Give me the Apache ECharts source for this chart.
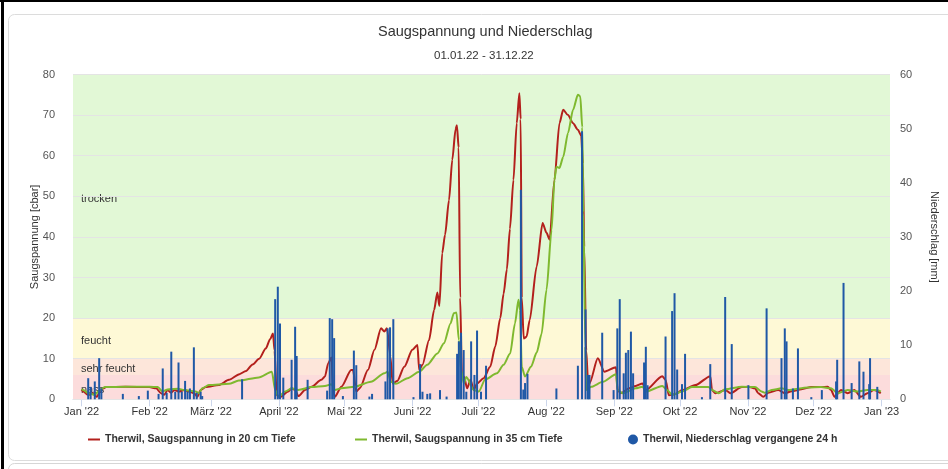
<!DOCTYPE html>
<html>
<head>
<meta charset="utf-8">
<title>Saugspannung und Niederschlag</title>
<script src="https://cdn.jsdelivr.net/npm/echarts@6/dist/echarts.min.js"></script>
<style>
  html, body { margin: 0; padding: 0; background: #fff; }
  #chart { width: 948px; height: 469px; }
</style>
</head>
<body>
<div id="chart"></div>
<script>
// Tage ab 01.01.22 (Tag 0)
const monatsTicks = [0, 31, 59, 90, 120, 151, 181, 212, 243, 273, 304, 334, 365];
const monatsLabels = ["Jan '22", "Feb '22", "März '22", "April '22", "Mai '22", "Juni '22", "Juli '22",
  "Aug '22", "Sep '22", "Okt '22", "Nov '22", "Dez '22", "Jan '23"];

// Bodenfeuchte-Bereiche [cbar]
const bandGrenzen = [0, 6, 10, 20, 80];
const bandNamen = ['nass', 'sehr feucht', 'feucht', 'trocken'];

// Saugspannung 20 cm [Tag, cbar]
const saug20 = [[0,2.4],[0.7,1.9],[3,1.1],[5.3,1.5],[6.8,0.6],[9.1,2.5],[11.3,3.0],[20,3.1],[30.9,3.0],[34,2.7],
  [36.2,1.5],[37.7,1.1],[39.2,2.3],[40.8,1.6],[42.3,2.3],[44.5,1.9],[46.8,2.3],[49,1.9],[51.3,1.5],[52.8,0.6],
  [54.3,2.3],[56.6,3.0],[62.6,3.5],[67.2,4.8],[72,6.2],[75,7],[78,8.6],[81,10],[84,12.5],[86,14.8],[87.3,16.2],
  [88,12],[89,1],[90.6,0.6],[94.3,1.9],[95.8,2.7],[97.4,2.3],[98.9,0.8],[101.9,2.3],[104.9,3.1],[109.4,4.8],
  [111,5.6],[112.5,8.9],[114,10.3],[114.7,2.3],[115.5,0.6],[118.5,3.1],[123,7.2],[123.8,7.2],[125.3,1.9],[127,2.8],
  [130.6,7.2],[133.6,12.2],[136.6,17.5],[138.1,16.7],[139.3,17.5],[140.9,10.5],[141.9,3.9],[144,4.5],[147.2,8],
  [150.9,12.2],[153.2,13.4],[154,7.2],[155.5,8.5],[158.5,14.6],[160.8,22],[162.3,26.3],[163.2,23],[164.5,36],
  [165.8,40.5],[167.6,49],[169.1,59],[170.6,66.5],[171.2,67.5],[172,62],[172.7,25],[173.5,6],[174.4,5.6],
  [175.9,2.7],[177.4,4.8],[178.9,2.3],[180.4,3.9],[183.4,5.2],[186.4,8],[188.7,13],[191,20],[192.5,26],[194,32],
  [195.4,42],[197,54],[198.5,68],[199.7,75.4],[200.3,69],[200.8,25],[201.7,15],[203,15.4],[204.4,19.5],
  [207.6,32.7],[210.3,43.4],[212.1,41],[213.5,39.3],[215.7,54],[218,68],[219.7,71.3],[221.9,70],[224.2,68],
  [226.4,66.4],[227.9,65],[228.7,58],[229.3,37.6],[230.2,12],[231,4.8],[231.7,3.9],[235.5,10.1],[238.5,6.8],
  [243.8,7.9],[244.5,2.3],[246,1.5],[249.8,2.7],[252.8,3.3],[255.9,3.9],[257.4,2.3],[264.9,5.7],[266.4,4.8],
  [267.9,1],[271,1.3],[274,2.3],[280,3.5],[286.8,5.7],[287.6,2.3],[289.1,1.5],[293.6,2.3],[296,1.5],[301.2,3],
  [304.2,3.1],[307.2,2.7],[308.7,1.5],[311,0.6],[313.2,1.6],[317.8,2.3],[320.8,1.5],[324,2],[328.4,2.5],
  [332.9,3],[337.4,3],[340.4,3.1],[341.9,2.3],[343.5,0.6],[346.5,2.3],[349.5,1.5],[352.5,2.3],[355.5,0.6],
  [358.5,1.5],[361.5,2.3],[364.6,1.5]];

// Saugspannung 35 cm [Tag, cbar]
const saug35 = [[0,2.5],[0.7,2.3],[3,1.5],[6,1.1],[8.3,2.3],[10.6,3.0],[20,3.1],[31,3.1],[34.7,3.0],[37,1.9],
  [38.5,2.3],[40,2.5],[44,2.6],[46.8,2.3],[52,1.9],[53.6,1.5],[55,2.7],[58,3.5],[67.2,3.8],[71.7,4.6],[80.8,5.4],
  [86.8,6.8],[88.3,2.3],[89.8,0.6],[92.8,1.9],[95.8,2.7],[98.9,2.3],[104.9,3],[111,3.3],[114,3.7],[115.5,2.3],
  [118.5,2.7],[124.5,3.1],[132,4.3],[138.1,6.4],[139.6,6.8],[141.1,4.3],[143.4,3.8],[148.7,5.2],[154,6.8],
  [157.7,8.5],[162.3,11.3],[165.3,13.8],[168.3,18.7],[169.8,21.2],[171,21.4],[172.1,14.6],[173.1,7.2],
  [174.4,3.9],[175.5,5.5],[178.9,2.3],[181.2,1.9],[184.1,4.9],[189.5,6.4],[192.5,8.5],[195.5,11.3],[197.7,18.7],
  [199.3,24.5],[200,22],[200.8,8],[202.3,5.6],[205,8],[207.6,11.5],[209.8,16],[212.1,27],[214.4,41.7],[215.7,54],
  [216.6,57.3],[218,57],[219.7,59.7],[221.9,65.6],[224.2,71.3],[226.4,75],[227.5,74.6],[228.4,67],[228.9,46],
  [229.8,13],[230.2,2.3],[232.5,3.1],[237.8,4.3],[243.8,6.2],[244.5,2.3],[246.8,1.5],[252.8,2.7],[255.9,3.1],
  [257.4,1.9],[264.9,3.3],[267.1,2.3],[269.4,1.1],[273.9,1.9],[278.4,3],[286,3],[287.6,2.3],[290.6,1.5],
  [293.6,2.5],[301.2,3.1],[307.2,3],[310.2,1.9],[311.7,1.6],[314.8,2.3],[319.3,2.7],[322.3,2.3],[331.4,2.9],
  [337.4,3],[341.9,2.7],[344.9,1.5],[349.5,2.3],[354,1.9],[358.5,2.3],[363,2.3],[364.6,1.9]];

// Niederschlag vergangene 24 h [Tag, mm]
const niederschlag = [[3,3.9],[4.1,2.3],[6,3.3],[8,7.6],[9,2],[18.8,1],[26.1,0.6],[30.2,1.6],[35.1,1],[37,5.7],
  [38.8,1.2],[40.9,8.8],[42.7,1.4],[44.2,6.8],[45.7,1.4],[47.2,3.4],[48.3,1.4],[49.4,2],[51.2,9.6],[52.5,1.2],
  [54.3,1.4],[55,0.6],[73.2,3.7],[88.3,18.5],[89.5,20.8],[90.5,14],[92,4],[95.8,7.3],[97.4,13.4],[98.1,8],
  [103.1,3.6],[112,1.6],[113.2,15],[114.3,14.8],[115.2,11.3],[119.2,0.6],[124.2,9],[125.3,6.3],[131.3,0.5],
  [132.5,1],[138.6,3.3],[139.6,13.1],[140.7,13.3],[142.2,14.8],[151.4,0.4],[154.4,6.5],[155.5,1.4],[157.7,1],
  [159,1.1],[163.5,1.7],[166.5,0.5],[171.3,8.4],[172.1,10.7],[173.1,12.3],[174.3,9.1],[175.5,1.4],[177.7,10.7],
  [179.2,4.5],[180.4,12.7],[182.2,1.4],[184.5,6.2],[200.4,38.7],[201.5,1.8],[202.3,3],[203.4,4.7],[216.6,2],
  [226.4,6.2],[228.3,49.5],[229.9,16.6],[231,4.5],[231.7,4.5],[237.5,12.3],[242.7,1.7],[244.4,13.1],[245.5,18.5],
  [247.3,4.8],[248.3,8.6],[249.4,9.1],[250.6,12.5],[251.6,4.8],[256.6,6.8],[257.4,9.7],[258.2,2.6],[266.4,11.6],
  [269.4,16.3],[270.5,19.6],[271.7,5.5],[273.9,2.8],[275.3,8.4],[283,0.4],[286.8,6.5],[293.6,18.9],[296.6,10.2],
  [304.2,2.6],[312.5,16.8],[319.3,7.6],[320.8,13.1],[321.6,10.7],[324.5,2],[326.8,9.4],[332.9,0.4],[337.7,1.7],
  [344.2,3.3],[344.7,7.3],[347.6,21.5],[351.3,3],[354.8,7],[356.7,5.1],[359.3,2.8],[359.7,7.6],[363,2.3]];

const bandFarben = ['#fcdcdc', '#fde6da', '#fef9d6', '#e2f8d6'];
const schrift = "'Liberation Sans', Arial, sans-serif";

const chart = echarts.init(document.getElementById('chart'), null, { renderer: 'canvas' });

const legendText = { fontSize: 10.5, fontWeight: 'bold', color: '#333', fontFamily: schrift };

const option = {
  backgroundColor: '#fff',
  animation: false,
  textStyle: { fontFamily: schrift },
  title: [
    { text: 'Saugspannung und Niederschlag', left: 378, top: 24, padding: 0,
      textStyle: { fontSize: 14.5, fontWeight: 'normal', color: '#333', fontFamily: schrift } },
    { text: '01.01.22 - 31.12.22', left: 434, top: 50, padding: 0,
      textStyle: { fontSize: 11.5, fontWeight: 'normal', color: '#333', fontFamily: schrift } }
  ],
  // Rahmen wie im Screenshot
  graphic: [
    { type: 'rect', shape: { x: 8.5, y: 14.5, width: 960, height: 446, r: 6 },
      style: { fill: null, stroke: '#dcdcdc', lineWidth: 1 }, z: -10 },
    { type: 'rect', shape: { x: 8.5, y: 463.5, width: 960, height: 60, r: 6 },
      style: { fill: null, stroke: '#d6d6d6', lineWidth: 1 }, z: -10 },
    { type: 'rect', shape: { x: 0, y: 0, width: 948, height: 2 }, style: { fill: '#000' }, z: 100 },
    { type: 'rect', shape: { x: 1, y: 0, width: 3, height: 469 }, style: { fill: '#000' }, z: 100 }
  ],
  legend: [
    { data: [{ name: 'Therwil, Saugspannung in 20 cm Tiefe', icon: 'rect' }], left: 88, top: 434, padding: 0,
      itemWidth: 12, itemHeight: 2, itemGap: 0, textStyle: legendText },
    { data: [{ name: 'Therwil, Saugspannung in 35 cm Tiefe', icon: 'rect' }], left: 355, top: 434, padding: 0,
      itemWidth: 12, itemHeight: 2, itemGap: 0, textStyle: legendText },
    { data: [{ name: 'Therwil, Niederschlag vergangene 24 h', icon: 'circle' }], left: 628, top: 434, padding: 0,
      itemWidth: 10, itemHeight: 10, itemGap: 0, textStyle: legendText }
  ],
  grid: { left: 73, right: 52, top: 74.5, bottom: 69.7, containLabel: false },
  xAxis: {
    type: 'value',
    min: -3.94,
    max: 368.8,
    axisLine: { show: true, lineStyle: { color: '#ccd6eb' } },
    axisTick: { show: true, length: 7, customValues: monatsTicks, lineStyle: { color: '#ccd6eb' } },
    axisLabel: {
      customValues: monatsTicks,
      margin: 7,
      fontSize: 11,
      color: '#333',
      fontFamily: schrift,
      formatter: function (v) {
        const i = monatsTicks.indexOf(v);
        return i >= 0 ? monatsLabels[i] : '';
      }
    },
    splitLine: { show: false }
  },
  yAxis: [
    {
      type: 'value', min: 0, max: 80, interval: 10, z: 2,
      name: 'Saugspannung [cbar]', nameLocation: 'middle', nameGap: 33, nameMoveOverlap: false,
      nameTextStyle: { fontSize: 11, color: '#333', fontFamily: schrift },
      axisLine: { show: false }, axisTick: { show: false },
      axisLabel: { margin: 18, fontSize: 11, color: '#555', fontFamily: schrift },
      splitLine: { show: true, lineStyle: { color: '#e4e4e4', width: 1 } }
    },
    {
      type: 'value', min: 0, max: 60, interval: 10, position: 'right',
      name: 'Niederschlag [mm]', nameLocation: 'middle', nameGap: 39, nameRotate: -90,
      nameTextStyle: { fontSize: 11, color: '#333', fontFamily: schrift },
      axisLine: { show: false }, axisTick: { show: false },
      axisLabel: { margin: 10, fontSize: 11, color: '#555', fontFamily: schrift },
      splitLine: { show: false }
    }
  ],
  series: [
    {
      // nur Hintergrund-Bänder
      name: 'baender', type: 'line', data: [], z: 0, silent: true,
      markArea: {
        silent: true,
        z: 1,
        label: { show: true, position: 'insideLeft', distance: 8, offset: [0, 2.5], color: '#333', fontSize: 11,
          fontFamily: schrift, textBorderWidth: 0 },
        data: bandNamen.map(function (n, i) {
          return [
            { name: n, yAxis: bandGrenzen[i], xAxis: -3.94, itemStyle: { color: bandFarben[i] } },
            { yAxis: bandGrenzen[i + 1], xAxis: 368.8 }
          ];
        })
      }
    },
    {
      name: 'Therwil, Saugspannung in 20 cm Tiefe', type: 'line', data: saug20, z: 3,
      showSymbol: false, symbol: 'none', smooth: 0.25, smoothMonotone: 'x',
      lineStyle: { color: '#b3201c', width: 2 }, itemStyle: { color: '#b3201c' }
    },
    {
      name: 'Therwil, Saugspannung in 35 cm Tiefe', type: 'line', data: saug35, z: 4,
      showSymbol: false, symbol: 'none', smooth: 0.25, smoothMonotone: 'x',
      lineStyle: { color: '#7fb92f', width: 2 }, itemStyle: { color: '#7fb92f' }
    },
    {
      name: 'Therwil, Niederschlag vergangene 24 h', type: 'bar', data: niederschlag, yAxisIndex: 1, z: 5,
      barWidth: 2, itemStyle: { color: '#1f58a6' }
    }
  ]
};

chart.setOption(option);
</script>
</body>
</html>
